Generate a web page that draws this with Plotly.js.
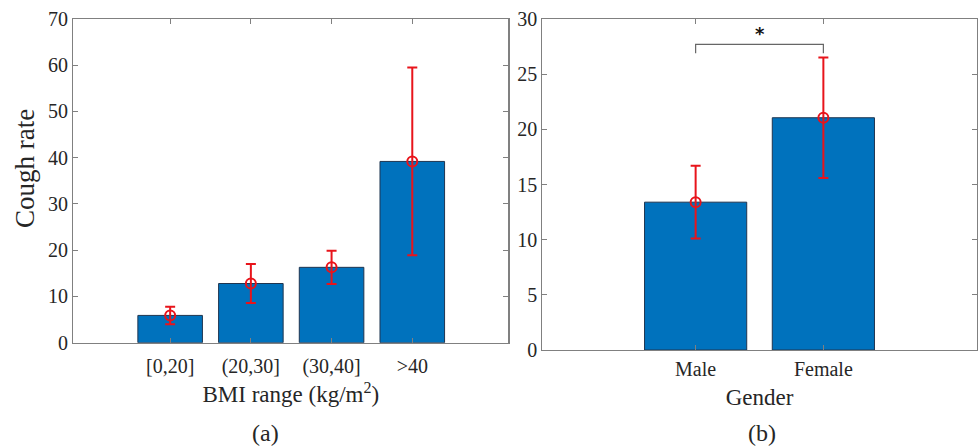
<!DOCTYPE html>
<html>
<head>
<meta charset="utf-8">
<script src="https://cdn.plot.ly/plotly-3.0.1.min.js"></script>
<style>html,body{margin:0;padding:0;background:#fff;}#chart{width:980px;height:446px;}</style>
</head>
<body>
<div id="chart"></div>
<script>
// Panel (a): BMI
const bmiCategories = ["[0,20]", "(20,30]", "(30,40]", ">40"];
const bmiMeans = [5.9, 12.8, 16.3, 39.2];
const bmiErrors = [1.9, 4.2, 3.6, 20.3];
// Panel (b): Gender
const genderCategories = ["Male", "Female"];
const genderMeans = [13.4, 21.05];
const genderErrors = [3.3, 5.45];
// Significance bracket between Male and Female
const sigPair = [0, 1];
const sigBracketTop = 27.7;
const sigBracketFoot = 26.9;
const sigLabel = "*";

const bmiIdx = bmiCategories.map((_, i) => i);
const genIdx = genderCategories.map((_, i) => i);

const barColor = "#0072BD";
const errColor = "#E8141B";
const axisColor = "#808080";
const textColor = "#262626";
const serif = "Liberation Serif, Times New Roman, serif";

const traces = [
  {type: "bar", x: bmiIdx, y: bmiMeans, width: 0.8, xaxis: "x", yaxis: "y",
   marker: {color: barColor, line: {color: "#1f3550", width: 1}}, hoverinfo: "skip"},
  {type: "scatter", mode: "markers", x: bmiIdx, y: bmiMeans, xaxis: "x", yaxis: "y",
   marker: {symbol: "circle-open", size: 10, color: errColor, line: {width: 2, color: errColor}},
   error_y: {type: "data", array: bmiErrors, visible: true, color: errColor, thickness: 2, width: 5}},
  {type: "bar", x: genIdx, y: genderMeans, width: 0.8, xaxis: "x2", yaxis: "y2",
   marker: {color: barColor, line: {color: "#1f3550", width: 1}}, hoverinfo: "skip"},
  {type: "scatter", mode: "markers", x: genIdx, y: genderMeans, xaxis: "x2", yaxis: "y2",
   marker: {symbol: "circle-open", size: 10, color: errColor, line: {width: 2, color: errColor}},
   error_y: {type: "data", array: genderErrors, visible: true, color: errColor, thickness: 2, width: 5}},
  {type: "scatter", mode: "lines", xaxis: "x2", yaxis: "y2",
   x: [sigPair[0], sigPair[0], sigPair[1], sigPair[1]],
   y: [sigBracketFoot, sigBracketTop, sigBracketTop, sigBracketFoot],
   line: {color: "#666", width: 1.2}, hoverinfo: "skip"}
];

const axBase = {
  showline: true, linecolor: axisColor, linewidth: 1.2, mirror: "ticks",
  ticks: "inside", ticklen: 5, tickcolor: axisColor, tickwidth: 1,
  showgrid: false, zeroline: false,
  tickfont: {family: serif, size: 20, color: textColor}
};

const layout = {
  width: 980, height: 446,
  margin: {l: 0, r: 0, t: 0, b: 0},
  paper_bgcolor: "#fff", plot_bgcolor: "#fff",
  showlegend: false,
  xaxis: Object.assign({}, axBase, {
    domain: [0.0748, 0.5187], range: [-1.2, 4.19], anchor: "y",
    tickvals: bmiIdx, ticktext: bmiCategories, ticklabelstandoff: 5,
    title: {text: "BMI range (kg/m<sup>2</sup>)", font: {family: serif, size: 23, color: textColor}, standoff: 9}
  }),
  yaxis: Object.assign({}, axBase, {
    domain: [0.2316, 0.9574], range: [0, 70], dtick: 10, anchor: "x"
  }),
  xaxis2: Object.assign({}, axBase, {
    domain: [0.5534, 0.9966], range: [-1.2, 2.2], anchor: "y2",
    tickvals: genIdx, ticktext: genderCategories, ticklabelstandoff: 1,
    title: {text: "Gender", font: {family: serif, size: 23, color: textColor}, standoff: 9}
  }),
  yaxis2: Object.assign({}, axBase, {
    domain: [0.2152, 0.9574], range: [0, 30], dtick: 5, anchor: "x2"
  }),
  annotations: [
    {xref: "paper", yref: "paper", x: 25 / 980, y: 1 - 169 / 446, xanchor: "center", yanchor: "middle",
     text: "Cough rate", textangle: -90, showarrow: false,
     font: {family: serif, size: 27, color: textColor}},
    {xref: "x2", yref: "y2", x: (sigPair[0] + sigPair[1]) / 2, y: sigBracketTop, yanchor: "bottom", yshift: -2,
     text: "<b>" + sigLabel + "</b>", showarrow: false, font: {family: "DejaVu Sans", size: 18, color: "#111"}},
    {xref: "paper", yref: "paper", x: 265.7 / 980, y: 1 - 433 / 446, xanchor: "center", yanchor: "middle",
     text: "(a)", showarrow: false, font: {family: serif, size: 24, color: textColor}},
    {xref: "paper", yref: "paper", x: 761.7 / 980, y: 1 - 433 / 446, xanchor: "center", yanchor: "middle",
     text: "(b)", showarrow: false, font: {family: serif, size: 24, color: textColor}}
  ]
};

Plotly.newPlot("chart", traces, layout, {staticPlot: true, displayModeBar: false});
</script>
</body>
</html>
